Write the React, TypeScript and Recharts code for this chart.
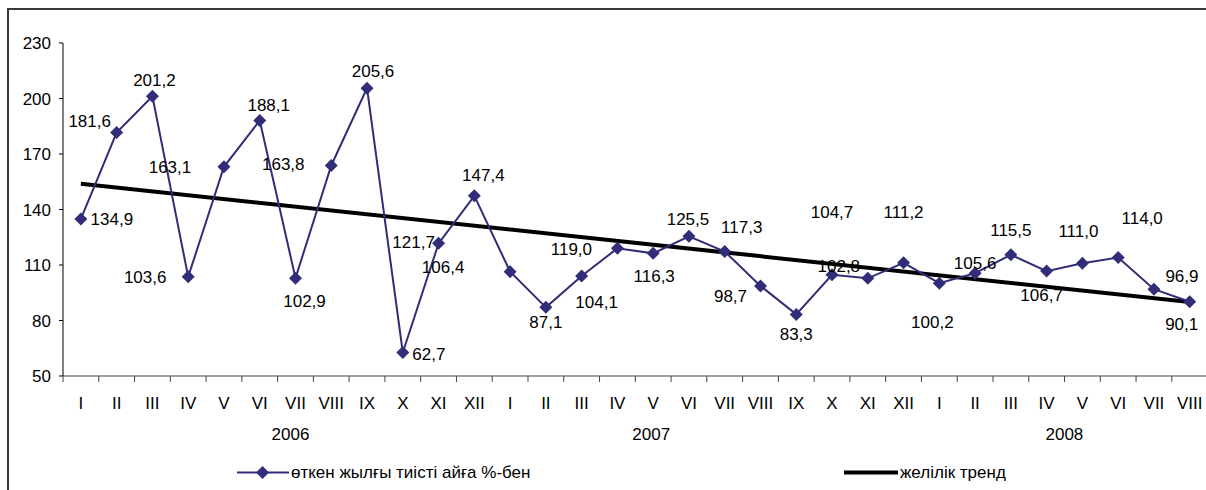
import { LabelList, Line, LineChart, XAxis, YAxis } from 'recharts'

const months = [
  'I', 'II', 'III', 'IV', 'V', 'VI', 'VII', 'VIII', 'IX', 'X', 'XI', 'XII',
  'I', 'II', 'III', 'IV', 'V', 'VI', 'VII', 'VIII', 'IX', 'X', 'XI', 'XII',
  'I', 'II', 'III', 'IV', 'V', 'VI', 'VII', 'VIII',
]
const years = ['2006', '2007', '2008']
const values = [
  134.9, 181.6, 201.2, 103.6, 163.1, 188.1, 102.9, 163.8, 205.6, 62.7, 121.7, 147.4,
  106.4, 87.1, 104.1, 119.0, 116.3, 125.5, 117.3, 98.7, 83.3, 104.7, 102.8, 111.2,
  100.2, 105.6, 115.5, 106.7, 111.0, 114.0, 96.9, 90.1,
]
// linear trend read at first and last month
const trendStart = 153.9
const trendEnd = 90.0
const yTicks = [50, 80, 110, 140, 170, 200, 230]
const seriesName = 'өткен жылғы тиісті айға %-бен'
const trendName = 'желілік тренд'

// where each value label sits relative to its marker (label centre - point centre)
const labelOffsets: [number, number][] = [
  [31, 1], [-27, -11], [2, -16], [-43, 1], [-54, 1], [9, -15], [9, 23], [-48, -1],
  [6, -17], [26, 2], [-25, -1], [9, -20],
  [-67, -4], [0, 15], [15, 27], [-46, 1], [1, 23], [-1, -17], [17, -24], [-30, 11],
  [0, 20], [0, -62], [-29, -12], [0, -50],
  [-7, 39], [0, -10], [0, -24], [-5, 24], [-4, -32], [24, -39], [28, -13], [-8, 23],
]
// year label anchor month index and nudge
const yearAnchor = [6, 16, 28]
const yearNudge = [-5, -2, -18]

const NAVY = '#312D78'
const FONT = '"Liberation Sans", Arial, sans-serif'
const W = 1220
const H = 490
const M = { top: 43, right: 12.4, left: 13, bottom: 44 }
const Y_W = 50
const PLOT_W = W - M.left - M.right - Y_W
const BAND = PLOT_W / months.length

const data = months.map((m, i) => ({
  idx: i,
  month: m,
  value: values[i],
  trend: i === 0 ? trendStart : i === months.length - 1 ? trendEnd : null,
}))

const fmt = (v: number) => v.toFixed(1).replace('.', ',')

function MonthTick(props: any) {
  const { x, y, index } = props
  const left = x - BAND / 2
  const yr = yearAnchor.indexOf(index)
  return (
    <g>
      <line x1={left} x2={left} y1={y - 8} y2={y - 2} stroke="#444" />
      {index === months.length - 1 ? (
        <line x1={x + BAND / 2} x2={x + BAND / 2} y1={y - 8} y2={y - 2} stroke="#444" />
      ) : null}
      <text x={x} y={y + 25} textAnchor="middle" fontSize={17} fill="#000" fontFamily={FONT}>
        {months[index]}
      </text>
      {yr >= 0 ? (
        <text x={x + yearNudge[yr]} y={y + 56} textAnchor="middle" fontSize={17} fill="#000" fontFamily={FONT}>
          {years[yr]}
        </text>
      ) : null}
    </g>
  )
}

function Diamond(props: any) {
  const { cx, cy, index } = props
  if (cx == null || cy == null) return <g key={index} />
  const r = 6.5
  return <path key={index} d={`M${cx},${cy - r}L${cx + r},${cy}L${cx},${cy + r}L${cx - r},${cy}Z`} fill={NAVY} />
}

function ValueLabel(props: any) {
  const { x, y, value, index } = props
  const [dx, dy] = labelOffsets[index]
  return (
    <text
      x={x + dx}
      y={y + dy}
      textAnchor="middle"
      dominantBaseline="central"
      fontSize={17}
      fill="#000"
      fontFamily={FONT}
    >
      {fmt(value)}
    </text>
  )
}

export default function App() {
  return (
    <div style={{ position: 'fixed', left: 0, top: 0, width: 1206, height: 490, overflow: 'hidden', background: '#fff' }}>
      <div
        style={{
          position: 'absolute',
          left: 7,
          top: 8,
          width: 1300,
          height: 600,
          borderLeft: '2px solid #3a3a3a',
          borderTop: '2px solid #3a3a3a',
        }}
      />
      <div style={{ position: 'absolute', left: 0, top: 0 }}>
        <LineChart width={W} height={H} data={data} margin={M}>
          <XAxis
            dataKey="idx"
            type="category"
            interval={0}
            height={70}
            padding={{ left: BAND / 2, right: BAND / 2 }}
            axisLine={{ stroke: '#444' }}
            tickLine={false}
            tickSize={6}
            tickMargin={2}
            tick={(p: any) => <MonthTick {...p} />}
          />
          <YAxis
            width={Y_W}
            domain={[50, 230]}
            ticks={yTicks}
            interval={0}
            tickSize={4}
            tickMargin={8}
            axisLine={{ stroke: '#000' }}
            tickLine={{ stroke: '#000' }}
            tick={{ fontSize: 17, fill: '#000', fontFamily: FONT }}
          />
          <Line
            dataKey="trend"
            name={trendName}
            stroke="#000"
            strokeWidth={4}
            dot={false}
            connectNulls
            isAnimationActive={false}
          />
          <Line
            dataKey="value"
            name={seriesName}
            stroke={NAVY}
            strokeWidth={2}
            dot={(p: any) => <Diamond key={p.index} {...p} />}
            activeDot={false}
            isAnimationActive={false}
          >
            <LabelList dataKey="value" content={(p: any) => <ValueLabel {...p} />} />
          </Line>
        </LineChart>
      </div>
      <svg width={1206} height={490} style={{ position: 'absolute', left: 0, top: 0, pointerEvents: 'none' }}>
        <line x1={237} x2={289} y1={472.5} y2={472.5} stroke={NAVY} strokeWidth={2} />
        <path d="M262.5,466L269,472.5L262.5,479L256,472.5Z" fill={NAVY} />
        <text x={291} y={472.5} dominantBaseline="central" fontSize={17} fill="#000" fontFamily={FONT}>
          {seriesName}
        </text>
        <line x1={844} x2={898} y1={472.5} y2={472.5} stroke="#000" strokeWidth={4} />
        <text x={900} y={472.5} dominantBaseline="central" fontSize={17} fill="#000" fontFamily={FONT}>
          {trendName}
        </text>
      </svg>
    </div>
  )
}
